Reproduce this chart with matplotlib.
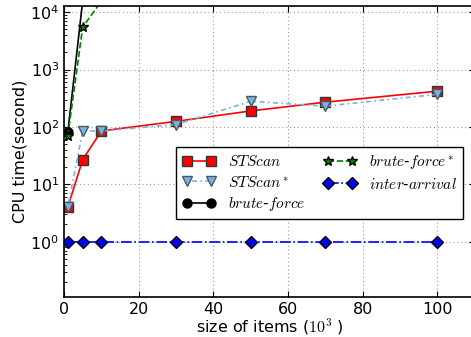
import matplotlib
matplotlib.use("Agg")
import matplotlib.pyplot as plt

plt.rcParams['mathtext.fontset'] = 'cm'
plt.rcParams['font.size'] = 9

# sizes of items (10^3)
x = [1, 5, 10, 30, 50, 70, 100]
stscan = [4, 27, 85, 125, 190, 270, 420]
stscan_star = [4, 85, 85, 110, 280, 230, 370]
brute_x = [1, 5]
brute = [80, 16000]
brute_star_x = [1, 5, 10, 30, 50, 70, 100]
brute_star = [70, 5500, 15500, 15500, 15500, 15500, 15500]
inter_arrival = [1, 1, 1, 1, 1, 1, 1]

fig = plt.figure(figsize=(4.71, 3.37), dpi=100)
ax = fig.add_axes([0.136, 0.119, 0.872, 0.862])

ax.plot(x, stscan, '-s', color='red', markerfacecolor='red', markeredgecolor='#333333',
        markersize=6.5, linewidth=1.2, label=r'$STScan$')
ax.plot(x, stscan_star, '-.v', color='#74b4ee', markerfacecolor='#74b4ee', markeredgecolor='#555555',
        markersize=7, linewidth=1.2, dashes=(1, 2, 3, 2), label=r'$STScan^*$')
ax.plot(brute_x, brute, '-o', color='black', markersize=6.5, linewidth=1.2, label=r'$brute$-$force$')
ax.plot(brute_star_x, brute_star, '--*', color='green', markerfacecolor='green', markeredgecolor='black',
        markersize=7, linewidth=1.2, label=r'$brute$-$force^*$')
ax.plot(x, inter_arrival, '-.D', color='blue', markerfacecolor='blue', markeredgecolor='black',
        markersize=6.5, linewidth=1.2, label=r'$inter$-$arrival$')

ax.set_yscale('log')
ax.set_xlim(0, 110)
ax.set_ylim(0.109, 12600)
ax.set_xticks([0, 20, 40, 60, 80, 100])
ax.grid(True, which='major', linestyle=(0, (1, 2.5)), color='#999999', linewidth=0.8)
ax.tick_params(which='both', direction='in', top=True, right=True)
ax.tick_params(which='major', length=4, labelsize=11.5)
ax.tick_params(which='minor', length=2)
for s in ax.spines.values():
    s.set_linewidth(1.2)

ax.set_xlabel(r'size of items ($10^3$ )', fontsize=11.5, labelpad=0)
ax.set_ylabel('CPU time(second)', fontsize=11.5, labelpad=2)

leg = ax.legend(loc='center', bbox_to_anchor=(0.622, 0.392), ncol=2, fontsize=11, numpoints=2,
                fancybox=False, framealpha=1, edgecolor='black', handlelength=2.2,
                columnspacing=1.2, borderpad=0.4, labelspacing=0.35)
leg.get_frame().set_linewidth(1.0)

fig.savefig('out.png', dpi=100)
